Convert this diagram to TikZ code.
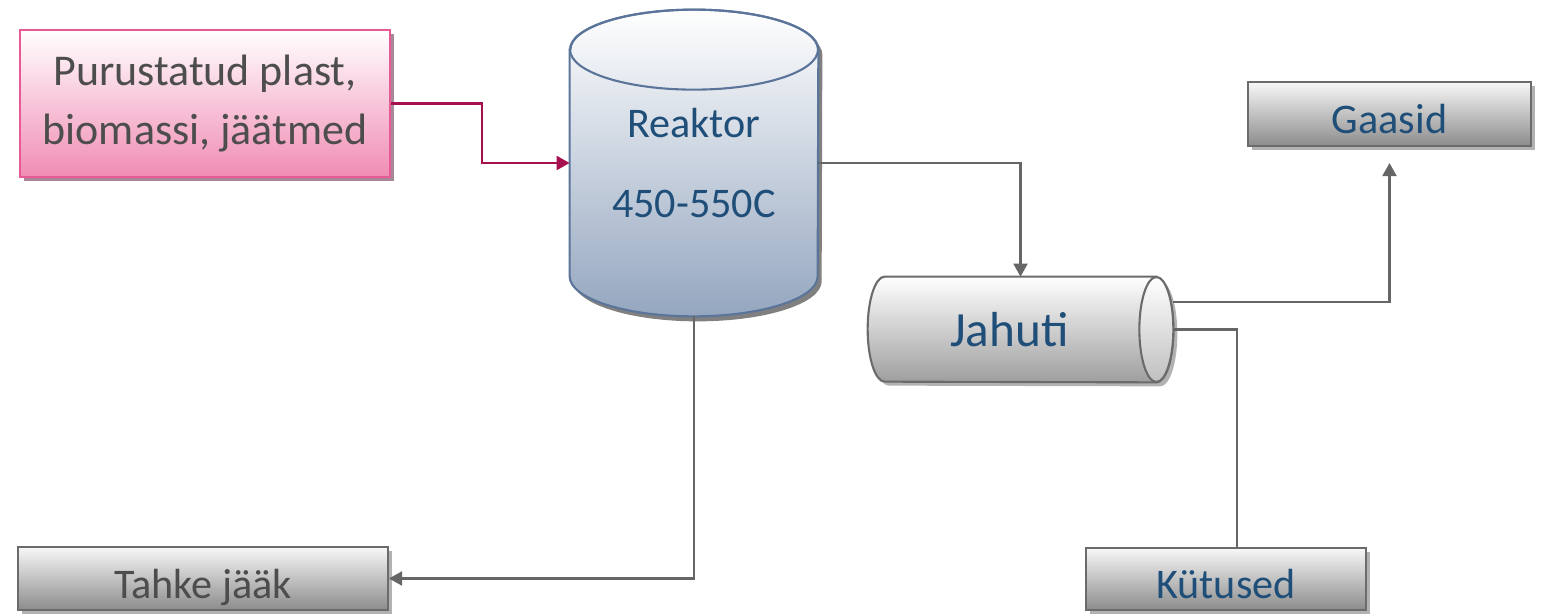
\documentclass[tikz,border=0pt]{standalone}
\usepackage{fontspec}
\setmainfont{Carlito}
\usetikzlibrary{arrows.meta, shadows, backgrounds}

\definecolor{txtblue}{RGB}{31,78,121}
\definecolor{txtgray}{RGB}{77,77,77}
\definecolor{edgegray}{RGB}{107,107,107}
\definecolor{linegray}{RGB}{102,102,102}
\definecolor{boxbot}{RGB}{140,140,140}
\definecolor{pinkedge}{RGB}{232,90,150}
\definecolor{pinkbot}{RGB}{240,140,180}
\definecolor{pinkshadow}{RGB}{168,136,152}
\definecolor{feedline}{RGB}{166,16,78}
\definecolor{steeledge}{RGB}{91,116,153}
\definecolor{steelbot}{RGB}{148,166,191}

\begin{document}
\begin{tikzpicture}[
    font=\fontsize{24}{34}\selectfont,
    box/.style={draw=edgegray, line width=1.2pt, align=center,
                inner sep=1pt, text height=0.95cm, text depth=0.17cm,
                top color=white!97!black, bottom color=boxbot,
                drop shadow={shadow xshift=0.08cm, shadow yshift=-0.08cm,
                             fill=black!30, opacity=1}},
    feedbox/.style={draw=pinkedge, line width=1.2pt, align=center,
                top color=white, bottom color=pinkbot, text=txtgray,
                font=\fontsize{25}{34}\selectfont,
                drop shadow={shadow xshift=0.08cm, shadow yshift=-0.08cm,
                             fill=pinkshadow, opacity=1}},
    holder/.style={inner sep=0pt, align=center, text=txtblue},
    tankbody/.style={draw=steeledge, line width=1.2pt,
                top color=white, bottom color=steelbot,
                drop shadow={shadow xshift=0.08cm, shadow yshift=-0.1cm,
                             fill=black!50, opacity=1}},
    coolbody/.style={draw=edgegray, line width=1.2pt,
                top color=white, bottom color=black!38,
                drop shadow={shadow xshift=0.08cm, shadow yshift=-0.08cm,
                             fill=black!30, opacity=1}},
    flow/.style={-{Triangle[length=2.6mm, width=2.8mm]}, line width=1.2pt, linegray},
    line/.style={line width=1.2pt, linegray},
    feedflow/.style={flow, feedline},
]
    \useasboundingbox (0,0) rectangle (30.88,12.26);

    % --- Nodes at fixed positions ---
    \node[feedbox, minimum width=7.4cm, minimum height=2.94cm]
        (feed) at (4.10,10.19) {Purustatud plast,\\biomassi, jäätmed};
    \node[holder, minimum width=4.96cm, minimum height=6.12cm]
        (reaktor) at (13.88,9.0) {Reaktor\\[0.4cm]450-550C};
    \node[holder, minimum width=6.1cm, minimum height=2.1cm,
          font=\fontsize{28}{34}\selectfont]
        (jahuti) at (20.41,5.67) {Jahuti\hspace*{0.45cm}};

    \node[box, minimum width=5.66cm, minimum height=1.28cm, text=txtblue]
        (gaasid) at (27.79,9.98) {Gaasid};
    \node[box, minimum width=5.6cm, minimum height=1.24cm, text=txtblue]
        (kutused) at (24.52,0.68) {Kütused};
    \node[box, minimum width=7.4cm, minimum height=1.26cm, text=txtgray]
        (tahke) at (4.06,0.69) {Tahke jääk};

    % --- Cylinders drawn behind their text ---
    \begin{scope}[on background layer]
        \draw[tankbody] ([yshift=-8mm]reaktor.north west)
            -- ([yshift=8mm]reaktor.south west)
            arc[start angle=180, end angle=360, x radius=2.48cm, y radius=8mm]
            -- ([yshift=-8mm]reaktor.north east)
            arc[start angle=0, end angle=180, x radius=2.48cm, y radius=8mm]
            -- cycle;
        \draw[steeledge, line width=1.2pt]
            ([yshift=-8mm]reaktor.north) ellipse[x radius=2.48cm, y radius=8mm];

        \draw[coolbody] ([xshift=-3.4mm]jahuti.north east)
            -- ([xshift=3.4mm]jahuti.north west)
            arc[start angle=90, end angle=270, x radius=3.4mm, y radius=1.05cm]
            -- ([xshift=-3.4mm]jahuti.south east)
            arc[start angle=-90, end angle=90, x radius=3.4mm, y radius=1.05cm]
            -- cycle;
        \draw[edgegray, line width=1.2pt, top color=white, bottom color=black!25]
            ([xshift=-3.4mm]jahuti.east) ellipse[x radius=3.4mm, y radius=1.05cm];
    \end{scope}

    % --- Connectors ---
    \draw[feedflow] (feed.east) -- ++(1.82,0) |- (reaktor.west);
    \draw[flow] (reaktor.east) -| (jahuti.north);
    \draw[flow] (reaktor.south) |- (tahke.east);

    \draw[flow] ([yshift=5.5mm]jahuti.east) -| ([yshift=-3.2mm]gaasid.south);
    \draw[line] (jahuti.east) -| ([xshift=2.2mm]kutused.north);
\end{tikzpicture}
\end{document}
